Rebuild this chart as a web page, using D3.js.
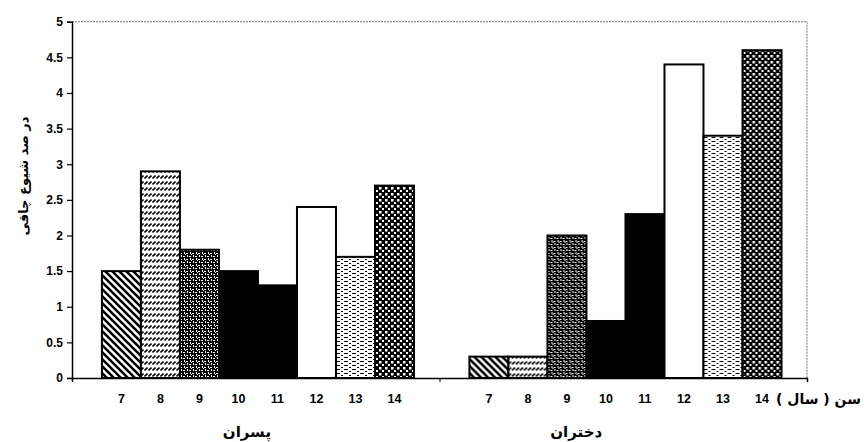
<!DOCTYPE html>
<html><head><meta charset="utf-8">
<script src="https://cdn.jsdelivr.net/npm/d3@7"></script>
<style>html,body{margin:0;padding:0;background:#fff;}svg{display:block;}</style>
</head><body>
<svg id="chart" width="864" height="442"></svg>
<script>
const groups = ["پسران", "دختران"];
const ages = ["7", "8", "9", "10", "11", "12", "13", "14"];
const boysValues = [1.5, 2.9, 1.8, 1.5, 1.3, 2.4, 1.7, 2.7];
const girlsValues = [0.3, 0.3, 2.0, 0.8, 2.3, 4.4, 3.4, 4.6];
const yTicks = [0, 0.5, 1, 1.5, 2, 2.5, 3, 3.5, 4, 4.5, 5];
const yTitle = "در صد شیوع چاقی";
const xTitle = "سن ( سال )";
const patternIds = ["p7", "p8", "p9", "solid", "solid", "white", "p13", "p14"];

const svg = d3.select("#chart");
const L = 72, R = 807, T = 21.7, B = 378;
const x0 = d3.scaleBand().domain(groups).range([L, R]).paddingInner(0).paddingOuter(0);
const x1 = d3.scaleBand().domain(ages).range([0, x0.bandwidth()]).paddingInner(0).paddingOuter(0.71).align(0.54);
const y = d3.scaleLinear().domain([0, 5]).range([B, T]);

const defs = svg.append("defs");
// 7: backslash stripes
let p = defs.append("pattern").attr("id", "p7").attr("patternUnits", "userSpaceOnUse").attr("width", 7).attr("height", 7);
p.append("rect").attr("width", 7).attr("height", 7).attr("fill", "#fff");
p.append("path").attr("d", "M-2,-2 L9,9 M-2,5 L2,9 M5,-2 L9,2").attr("stroke", "#000").attr("stroke-width", 2.6);
// 8: rows of short slashes
p = defs.append("pattern").attr("id", "p8").attr("patternUnits", "userSpaceOnUse").attr("width", 4).attr("height", 6);
p.append("rect").attr("width", 4).attr("height", 6).attr("fill", "#fff");
p.append("path").attr("d", "M0.5,4.5 L3.5,1.5").attr("stroke", "#000").attr("stroke-width", 1.6);
// 9: dark with white speckles
p = defs.append("pattern").attr("id", "p9").attr("patternUnits", "userSpaceOnUse").attr("width", 6).attr("height", 6);
p.append("rect").attr("width", 6).attr("height", 6).attr("fill", "#000");
p.append("rect").attr("x", 0).attr("y", 1).attr("width", 2).attr("height", 1).attr("fill", "#fff");
p.append("rect").attr("x", 3).attr("y", 4).attr("width", 2).attr("height", 1).attr("fill", "#fff");
p.append("rect").attr("x", 4).attr("y", 0).attr("width", 1).attr("height", 2).attr("fill", "#fff");
p.append("rect").attr("x", 1).attr("y", 3).attr("width", 1).attr("height", 2).attr("fill", "#fff");
p.append("rect").attr("x", 5).attr("y", 2).attr("width", 1).attr("height", 1).attr("fill", "#fff");
// 13: white with short black dashes
p = defs.append("pattern").attr("id", "p13").attr("patternUnits", "userSpaceOnUse").attr("width", 8).attr("height", 4);
p.append("rect").attr("width", 8).attr("height", 4).attr("fill", "#fff");
p.append("rect").attr("x", 0).attr("y", 1).attr("width", 4).attr("height", 1).attr("fill", "#000");
p.append("rect").attr("x", 5).attr("y", 3).attr("width", 2).attr("height", 1).attr("fill", "#000");
// 14: black with white dots
p = defs.append("pattern").attr("id", "p14").attr("patternUnits", "userSpaceOnUse").attr("width", 6).attr("height", 6);
p.append("rect").attr("width", 6).attr("height", 6).attr("fill", "#000");
p.append("rect").attr("x", 1).attr("y", 1).attr("width", 2.5).attr("height", 2.5).attr("fill", "#fff");
p.append("rect").attr("x", 4).attr("y", 4).attr("width", 2.5).attr("height", 2.5).attr("fill", "#fff");

const fillFor = id => id === "solid" ? "#000" : id === "white" ? "#fff" : `url(#${id})`;

// plot border (dotted top/right)
svg.append("line").attr("x1", L).attr("x2", R).attr("y1", T).attr("y2", T).attr("stroke", "#777").attr("stroke-dasharray", "2,1");
svg.append("line").attr("x1", R).attr("x2", R).attr("y1", T).attr("y2", B).attr("stroke", "#777").attr("stroke-dasharray", "2,1");

const data = [boysValues, girlsValues];
groups.forEach((g, gi) => {
  const gEl = svg.append("g").attr("transform", `translate(${x0(g)},0)`);
  gEl.selectAll("rect").data(data[gi]).join("rect")
    .attr("x", (d, i) => x1(ages[i]))
    .attr("y", d => y(d))
    .attr("width", x1.bandwidth())
    .attr("height", d => B - y(d))
    .attr("fill", (d, i) => fillFor(patternIds[i]))
    .attr("stroke", "#000").attr("stroke-width", 2);
  gEl.selectAll("text.age").data(ages).join("text").attr("class", "age")
    .attr("x", a => x1(a) + x1.bandwidth() / 2)
    .attr("y", 403)
    .attr("text-anchor", "middle")
    .attr("font-family", "Liberation Sans, Arial, sans-serif")
    .attr("font-weight", "bold").attr("font-size", 12.5)
    .text(a => a);
});

// group labels
const groupLabelPos = [0.476, 0.372];
svg.selectAll("text.grp").data(groups).join("text").attr("class", "grp")
  .attr("x", (g, i) => x0(g) + x0.bandwidth() * groupLabelPos[i])
  .attr("y", 437)
  .attr("text-anchor", "middle")
  .attr("font-family", "DejaVu Sans, sans-serif")
  .attr("font-weight", "bold").attr("font-size", 15)
  .text(g => g);

// y axis
const yAxis = d3.axisLeft(y).tickValues(yTicks).tickSize(5).tickFormat(d => String(d));
const ya = svg.append("g").attr("transform", `translate(${L},0)`).call(yAxis);
ya.select(".domain").attr("stroke", "#000").attr("stroke-width", 1.5);
ya.selectAll(".tick line").attr("stroke", "#000").attr("stroke-width", 1.2);
ya.selectAll(".tick text").attr("font-family", "Liberation Sans, Arial, sans-serif")
  .attr("font-weight", "bold").attr("font-size", 12).attr("fill", "#000").attr("x", -9);

// x axis baseline with group boundary ticks
const xa = svg.append("g").attr("transform", `translate(0,${B})`)
  .call(d3.axisBottom(d3.scalePoint().domain(["a", "b", "c"]).range([L, R])).tickSize(4).tickFormat(""));
xa.select(".domain").attr("stroke", "#000").attr("stroke-width", 1.5);
xa.selectAll(".tick line").attr("stroke", "#000");

// titles
svg.append("text").attr("x", 861).attr("y", 404).attr("text-anchor", "end")
  .attr("font-family", "DejaVu Sans, sans-serif").attr("font-weight", "bold").attr("font-size", 14)
  .text(xTitle);
svg.append("text").attr("transform", "translate(28,176) rotate(-90)").attr("text-anchor", "middle")
  .attr("font-family", "DejaVu Sans, sans-serif").attr("font-weight", "bold").attr("font-size", 13)
  .text(yTitle);
</script>
</body></html>
